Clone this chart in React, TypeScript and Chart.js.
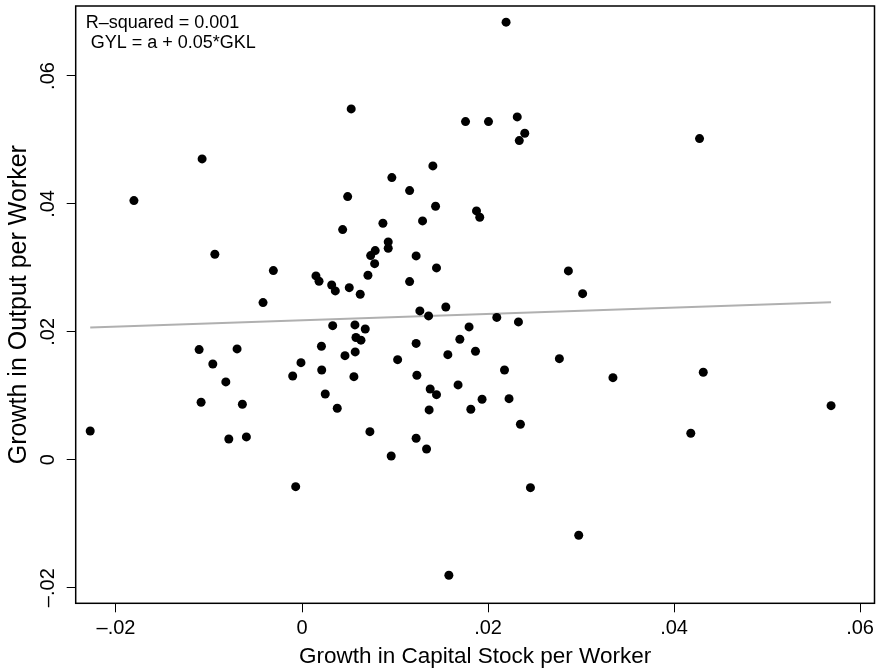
import React, { useEffect, useRef } from "react";
import { Chart, registerables } from "chart.js";

Chart.register(...registerables);

// Growth in Capital Stock per Worker (GKL)
const gklValues: number[] = [
  -0.01074, -0.01807, -0.00937, -0.00308, -0.00419, -0.01106, -0.00698, -0.00959, -0.00819, -0.01085,
  -0.00641, -0.02277, -0.00787, -0.00598, -0.00011, -0.001, -0.00068, 0.0058, 0.00634, 0.00209,
  0.01227, 0.01697, 0.00462, 0.00572, 0.01028, 0.01568, 0.01865, 0.00212, 0.00558, 0.01235,
  0.01378, 0.01446, 0.01678, 0.01936, 0.0025, 0.00379, 0.01367, 0.01815, 0.0073, 0.01227,
  0.01339, 0.00959, 0.01407, 0.00966, 0.01157, 0.00491, 0.01436, 0.01876, 0.01911, 0.01296,
  0.0087, 0.00437, 0.00927, 0.00927, 0.00787, 0.00738, 0.01227, 0.00781, 0.01446, 0.00709,
  0.0015, 0.00183, 0.01157, 0.00319, 0.00358, 0.00508, 0.00626, 0.01267, 0.01361, 0.01546,
  0.02094, 0.0033, 0.00569, 0.0068, 0.01796, 0.02194, 0.01758, 0.02005, 0.02314, 0.02395,
  0.02336, 0.00529, 0.04274, 0.02864, 0.03017, 0.02327, 0.02767, 0.02177, 0.03343, 0.04314,
  0.05688, 0.02226, 0.02348, 0.0418, 0.02456, 0.02975, 0.01579,
];

// Growth in Output per Worker (GYL)
const gylValues: number[] = [
  0.04704, 0.04052, 0.03213, 0.02957, 0.02457, 0.01722, 0.01733, 0.01498, 0.01217, 0.00899,
  0.00868, 0.0045, 0.00325, 0.00357, 0.01518, 0.0131, -0.00421, 0.01912, 0.0187, 0.01775,
  0.01819, 0.01884, 0.01628, 0.01686, 0.01565, 0.01643, 0.01697, 0.01404, 0.01299, 0.01321,
  0.01107, 0.01018, 0.0117, 0.00946, 0.01029, 0.00805, 0.00779, 0.0079, 0.00439, 0.00336,
  0.00169, 0.00059, 0.04594, 0.04411, 0.04208, 0.04114, 0.03964, 0.03891, 0.03792, 0.03734,
  0.03698, 0.03598, 0.03406, 0.03307, 0.0327, 0.03192, 0.03187, 0.03066, 0.02999, 0.02885,
  0.02874, 0.02791, 0.02785, 0.02733, 0.0264, 0.02691, 0.02588, 0.02327, 0.02249, 0.02389,
  0.02225, 0.02097, 0.02108, 0.02045, 0.02077, 0.06841, 0.05287, 0.05287, 0.0536, 0.05105,
  0.0499, 0.05485, 0.05021, 0.02952, 0.02597, 0.02155, 0.01581, 0.01404, 0.01284, 0.01368,
  0.00846, 0.00955, 0.00555, 0.00414, -0.00436, -0.01181, -0.01806,
];

const xTickValues: number[] = [-0.02, 0, 0.02, 0.04, 0.06];
const xTickLabels: string[] = ["\u2013.02", "0", ".02", ".04", ".06"];
const yTickValues: number[] = [-0.02, 0, 0.02, 0.04, 0.06];
const yTickLabels: string[] = ["\u2013.02", "0", ".02", ".04", ".06"];

const xAxisTitle = "Growth in Capital Stock per Worker";
const yAxisTitle = "Growth in Output per Worker";
const annotationLines: string[] = ["R\u2013squared = 0.001", " GYL = a + 0.05*GKL"];

const fitIntercept = 0.0218;
const fitSlope = 0.05;

const FONT = '"Liberation Sans", Arial, Helvetica, sans-serif';

export default function App() {
  const canvasRef = useRef<HTMLCanvasElement | null>(null);

  useEffect(() => {
    const canvas = canvasRef.current;
    if (!canvas) return;

    const points = gklValues.map((x, i) => ({ x, y: gylValues[i] }));
    const xMinData = Math.min(...gklValues);
    const xMaxData = Math.max(...gklValues);
    const fitLine = [
      { x: xMinData, y: fitIntercept + fitSlope * xMinData },
      { x: xMaxData, y: fitIntercept + fitSlope * xMaxData },
    ];

    const framePlugin = {
      id: "framePlugin",
      afterDatasetsDraw(chart: any) {
        const { ctx, chartArea: a } = chart;
        ctx.save();
        ctx.strokeStyle = "#000";
        ctx.lineWidth = 1.5;
        ctx.strokeRect(a.left, a.top, a.right - a.left, a.bottom - a.top);
        ctx.fillStyle = "#000";
        ctx.font = `18px ${FONT}`;
        ctx.textAlign = "left";
        ctx.textBaseline = "alphabetic";
        annotationLines.forEach((t, i) => {
          ctx.fillText(t, a.left + 10, a.top + 22 + i * 20);
        });
        ctx.restore();
      },
    };

    const chart = new Chart(canvas, {
      type: "scatter",
      data: {
        datasets: [
          {
            type: "scatter",
            label: "GYL",
            data: points,
            pointRadius: 4.5,
            pointHoverRadius: 4.5,
            pointBackgroundColor: "#000",
            pointBorderWidth: 0,
            order: 0,
          },
          {
            type: "line",
            label: "Fitted",
            data: fitLine,
            borderColor: "#b0b0b0",
            borderWidth: 2,
            pointRadius: 0,
            fill: false,
            order: 1,
          } as any,
        ],
      },
      options: {
        responsive: false,
        animation: false,
        events: [],
        layout: { padding: { left: 0, right: 4.5, top: 6, bottom: 0 } },
        plugins: {
          legend: { display: false },
          tooltip: { enabled: false },
        },
        scales: {
          x: {
            type: "linear",
            min: -0.02433,
            max: 0.06155,
            afterBuildTicks: (s: any) => {
              s.ticks = xTickValues.map((v) => ({ value: v }));
            },
            afterFit: (s: any) => {
              s.height = 67.7;
              s.paddingLeft = 0;
              s.paddingRight = 0;
            },
            ticks: {
              autoSkip: false,
              minRotation: 0,
              maxRotation: 0,
              padding: 4,
              color: "#000",
              font: { family: FONT, size: 20 },
              callback: (_v: any, i: number) => xTickLabels[i],
            },
            grid: {
              drawOnChartArea: false,
              drawTicks: true,
              tickLength: 9,
              color: "#000",
              lineWidth: 1,
            },
            border: { display: false },
            title: {
              display: true,
              text: xAxisTitle,
              color: "#000",
              font: { family: FONT, size: 22.5 },
              padding: { top: 0, bottom: 1 },
            },
          },
          y: {
            type: "linear",
            min: -0.02244,
            max: 0.07094,
            afterBuildTicks: (s: any) => {
              s.ticks = yTickValues.map((v) => ({ value: v }));
            },
            afterFit: (s: any) => {
              s.width = 75.7;
              s.paddingTop = 0;
              s.paddingBottom = 0;
            },
            ticks: {
              autoSkip: false,
              minRotation: 90,
              maxRotation: 90,
              crossAlign: "center",
              padding: -1,
              color: "#000",
              font: { family: FONT, size: 20 },
              callback: (_v: any, i: number) => yTickLabels[i],
            },
            grid: {
              drawOnChartArea: false,
              drawTicks: true,
              tickLength: 9,
              color: "#000",
              lineWidth: 1,
            },
            border: { display: false },
            title: {
              display: true,
              text: yAxisTitle,
              color: "#000",
              font: { family: FONT, size: 25 },
              padding: { top: 4, bottom: 0 },
            },
          },
        },
      },
      plugins: [framePlugin],
    });

    return () => {
      chart.destroy();
    };
  }, []);

  return (
    <div style={{ position: "absolute", left: 0, top: 0, width: 879, height: 671, background: "#fff" }}>
      <canvas ref={canvasRef} width={879} height={671} style={{ display: "block" }} />
    </div>
  );
}
